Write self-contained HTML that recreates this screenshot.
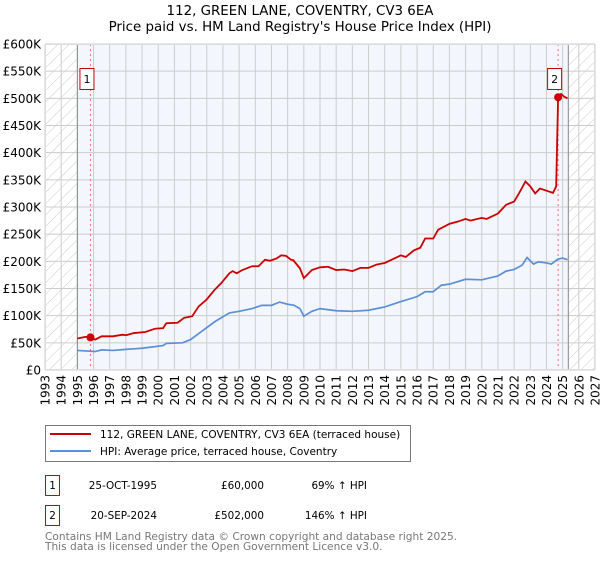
<!DOCTYPE html>
<html><head><meta charset="utf-8"><style>
body{margin:0;background:#fff;width:600px;height:560px;overflow:hidden;font-family:"DejaVu Sans","Liberation Sans",sans-serif}
</style></head><body>
<svg id="c" width="600" height="560" xmlns="http://www.w3.org/2000/svg" font-family="DejaVu Sans, Liberation Sans, sans-serif">
<defs><pattern id="h" width="8" height="8" patternUnits="userSpaceOnUse" patternTransform="rotate(45)"><line x1="0" y1="0" x2="0" y2="8" stroke="#ccc" stroke-width="1"/></pattern></defs>
<text x="300" y="15" text-anchor="middle" font-size="13.4">112, GREEN LANE, COVENTRY, CV3 6EA</text>
<text x="300" y="31" text-anchor="middle" font-size="13.4">Price paid vs. HM Land Registry's House Price Index (HPI)</text>
<g id="plot"></g>
<g>
<rect x="45.5" y="425.5" width="365" height="36" fill="#fff" stroke="#777"/>
<line x1="50" y1="434" x2="91" y2="434" stroke="#cc0000" stroke-width="2"/>
<text x="100" y="438" font-size="10.5">112, GREEN LANE, COVENTRY, CV3 6EA (terraced house)</text>
<line x1="50" y1="451" x2="91" y2="451" stroke="#5b8fd6" stroke-width="2"/>
<text x="100" y="455" font-size="10.5">HPI: Average price, terraced house, Coventry</text>
</g>
<g font-size="10.4">
<rect x="45.5" y="475.5" width="14" height="20" fill="#fff" stroke="#cc0000"/>
<text x="52.5" y="489" text-anchor="middle">1</text>
<text x="157" y="489" text-anchor="end">25-OCT-1995</text>
<text x="264" y="489" text-anchor="end">£60,000</text>
<text x="367" y="489" text-anchor="end">69% ↑ HPI</text>
<rect x="45.5" y="505.5" width="14" height="20" fill="#fff" stroke="#cc0000"/>
<text x="52.5" y="519" text-anchor="middle">2</text>
<text x="157" y="519" text-anchor="end">20-SEP-2024</text>
<text x="264" y="519" text-anchor="end">£502,000</text>
<text x="367" y="519" text-anchor="end">146% ↑ HPI</text>
</g>
<text x="45" y="540" font-size="10.6" fill="#777">Contains HM Land Registry data © Crown copyright and database right 2025.</text>
<text x="45" y="550" font-size="10.6" fill="#777">This data is licensed under the Open Government Licence v3.0.</text>
</svg>
<script>
const redYears=[1995.0,1995.5,1995.8,1996.1,1996.5,1997.2,1997.8,1998.0,1998.5,1999.2,1999.8,2000.3,2000.5,2001.2,2001.6,2002.1,2002.5,2003.0,2003.5,2003.9,2004.4,2004.6,2004.85,2005.2,2005.8,2006.2,2006.6,2006.9,2007.3,2007.6,2007.9,2008.2,2008.35,2008.76,2009.0,2009.5,2010,2010.5,2011,2011.5,2012,2012.5,2013,2013.5,2014,2014.5,2015,2015.3,2015.8,2016.2,2016.5,2017,2017.3,2018,2018.5,2019,2019.3,2020,2020.3,2021,2021.5,2022,2022.3,2022.7,2023,2023.3,2023.6,2024,2024.4,2024.6,2024.72,2024.9,2025.1,2025.3];
const redValues=[58,61,60,56,62,62,65,64,68,70,76,77,86,87,96,99,117,130,148,160,178,182,178,184,191,191,203,201,205,211,210,203,202,187,169,184,189,190,184,185,182,188,188,194,197,204,211,208,220,225,242,242,258,269,273,278,275,280,278,288,304,310,325,347,338,325,334,330,326,338,502,508,503,500];
const hpiYears=[1995.0,1996.1,1996.5,1997.2,1998.0,1998.5,1999.0,2000.3,2000.5,2001.5,2002.0,2002.5,2003.5,2004.4,2005.0,2005.8,2006.4,2007.0,2007.5,2008.0,2008.4,2008.76,2009.0,2009.5,2010,2011,2012,2013,2014,2015,2016,2016.5,2017,2017.5,2018,2019,2020,2021,2021.5,2022,2022.5,2022.8,2023.2,2023.5,2024,2024.3,2024.7,2025,2025.3];
const hpiValues=[36,34,37,36,38,39,40,45,49,50,56,67,89,105,108,113,119,119,125,121,119,113,99,108,113,109,108,110,116,126,135,144,144,156,158,167,166,173,182,185,193,207,195,199,197,195,204,206,203];
const saleYears=[1995.81,2024.72];
const saleValues=[60,502];
const saleLabels=["1","2"];
const yTicks=[0,50,100,150,200,250,300,350,400,450,500,550,600];
const yTickLabels=["£0","£50K","£100K","£150K","£200K","£250K","£300K","£350K","£400K","£450K","£500K","£550K","£600K"];
const xTicks=[1993,1994,1995,1996,1997,1998,1999,2000,2001,2002,2003,2004,2005,2006,2007,2008,2009,2010,2011,2012,2013,2014,2015,2016,2017,2018,2019,2020,2021,2022,2023,2024,2025,2026,2027];

const L=45,R=595,T=44,B=370,x0=1993,x1=2027,dataStart=1995,dataEnd=2025.35;
const X=y=>L+(y-x0)/(x1-x0)*(R-L);
const Y=v=>B-v/600*(B-T);
const NS="http://www.w3.org/2000/svg";
const g=document.getElementById('plot');
function mk(t,a,p){const e=document.createElementNS(NS,t);for(const k in a)e.setAttribute(k,a[k]);(p||g).appendChild(e);return e;}
const bg=mk('rect',{x:X(dataStart),y:T,width:X(dataEnd)-X(dataStart),height:B-T,fill:'#f3f6fd'});


const h1=mk('rect',{x:L,y:T,width:X(dataStart)-L,height:B-T,fill:'url(#h)'});


const h2=mk('rect',{x:X(dataEnd),y:T,width:R-X(dataEnd),height:B-T,fill:'url(#h)'});


xTicks.forEach(t=>{mk('line',{x1:X(t),x2:X(t),y1:T,y2:B,stroke:'#ccc','stroke-width':1});
 const tx=mk('text',{x:0,y:0,'font-size':12,'text-anchor':'end',transform:`translate(${X(t)+4.5},${B+5}) rotate(-90)`});tx.textContent=t;
 
 });
yTicks.forEach((t,i)=>{mk('line',{x1:L,x2:R,y1:Y(t),y2:Y(t),stroke:'#ccc','stroke-width':1});
 const tx=mk('text',{x:L-4,y:Y(t)+4.5,'font-size':12,'text-anchor':'end'});tx.textContent=yTickLabels[i];
 
 });
mk('line',{x1:X(dataStart),x2:X(dataStart),y1:T,y2:B,stroke:'#888','stroke-width':1});
mk('line',{x1:X(dataEnd),x2:X(dataEnd),y1:T,y2:B,stroke:'#888','stroke-width':1});
saleYears.forEach(s=>mk('line',{x1:X(s),x2:X(s),y1:T,y2:B,stroke:'#f07070','stroke-width':1,'stroke-dasharray':'2,3'}));
const hp=mk('polyline',{points:hpiYears.map((y,i)=>X(y)+','+Y(hpiValues[i])).join(' '),fill:'none',stroke:'#5b8fd6','stroke-width':1.7});


const rp=mk('polyline',{points:redYears.map((y,i)=>X(y)+','+Y(redValues[i])).join(' '),fill:'none',stroke:'#cc0000','stroke-width':1.8});


saleYears.forEach((s,i)=>{
 const d=mk('circle',{cx:X(s),cy:Y(saleValues[i]),r:4,fill:'#cc0000'});
 
 
 const bx=X(s)-10;
 const r=mk('rect',{x:bx-0.5,y:68.5,width:14,height:21,fill:'#fff',stroke:'#cc0000'});
 
 
 const t=mk('text',{x:bx+6.5,y:83,'font-size':11,'text-anchor':'middle'});t.textContent=saleLabels[i];
});
mk('rect',{x:L+0.5,y:T+0.5,width:R-L-1,height:B-T-1,fill:'none',stroke:'#ddd'});
</script>
</body></html>
